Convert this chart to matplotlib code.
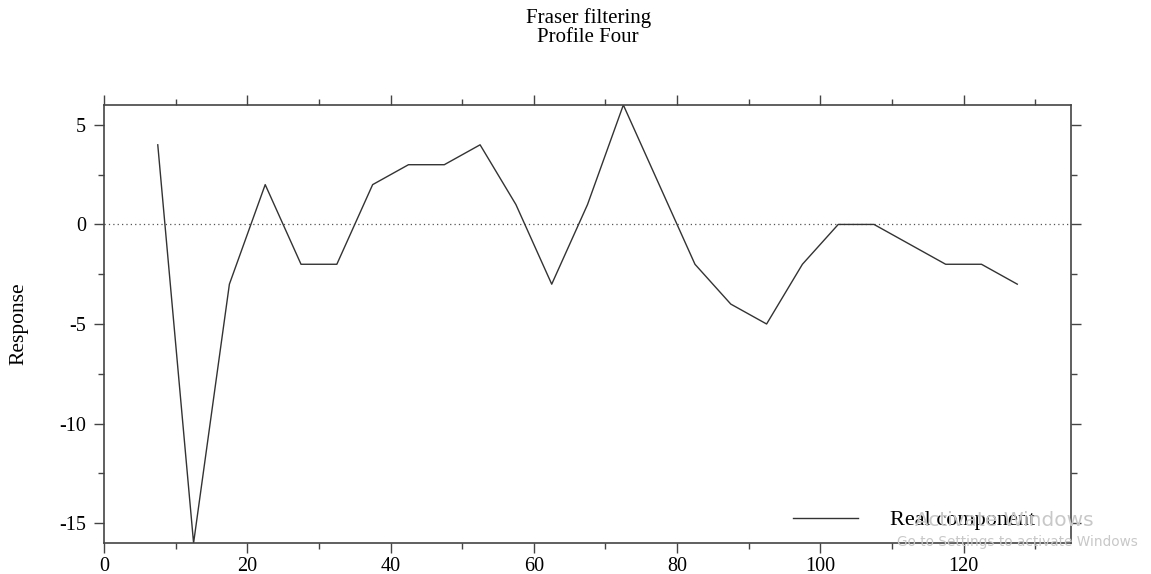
import numpy as np
import matplotlib.pyplot as plt
from matplotlib.ticker import MultipleLocator

# Profile Four, real component of the Fraser filter
station = [7.5, 12.5, 17.5, 22.5, 27.5, 32.5, 37.5, 42.5, 47.5, 52.5, 57.5, 62.5, 67.5,
           72.5, 77.5, 82.5, 87.5, 92.5, 97.5, 102.5, 107.5, 112.5, 117.5, 122.5, 127.5]
real_part = [4, -16, -3, 2, -2, -2, 2, 3, 3, 4, 1, -3, 1,
             6, 2, -2, -4, -5, -2, 0, 0, -1, -2, -2, -3]

plt.rcParams['font.family'] = ['Liberation Serif', 'DejaVu Serif']
plt.rcParams['axes.unicode_minus'] = False

fig = plt.figure(figsize=(11.51, 5.74), dpi=100)
ax = fig.add_axes([0.0904, 0.054, 0.8401, 0.7631])

ax.axhline(0, color='#555555', linestyle=(0, (1, 2.5)), linewidth=0.9)
ax.plot(station, real_part, color='#333333', linewidth=1.0, label='Real component')

ax.set_xlim(0, 135)
ax.set_ylim(-16, 6)
ax.xaxis.set_major_locator(MultipleLocator(20))
ax.xaxis.set_minor_locator(MultipleLocator(10))
ax.yaxis.set_major_locator(MultipleLocator(5))
ax.yaxis.set_minor_locator(MultipleLocator(2.5))
ax.tick_params(which='both', direction='out', top=True, right=True,
               labeltop=False, labelright=False, color='#444444', width=1.0,
               labelsize=14.5)
ax.tick_params(axis='y', pad=6)
ax.tick_params(axis='x', pad=3)
ax.tick_params(which='major', length=7)
ax.tick_params(which='minor', length=4)
for s in ax.spines.values():
    s.set_color('#444444')
    s.set_linewidth(1.2)

ax.set_ylabel('Response', fontsize=15.5)
ax.yaxis.set_label_coords(-0.078, 0.5)
fig.text(0.511, 0.9686, 'Fraser filtering', ha='center', va='center', fontsize=15)
fig.text(0.511, 0.9355, 'Profile Four', ha='center', va='center', fontsize=15)

ax.legend(loc='center right', bbox_to_anchor=(0.963, 0.0525), frameon=False,
          fontsize=16, handlelength=2.9, handletextpad=1.45,
          borderpad=0, borderaxespad=0)

# windows activation watermark sitting over the screenshot
fig.text(0.795, 0.094, 'Activate Windows', color='#c8c8c8', fontsize=14.5,
         family='DejaVu Sans', ha='left', va='center')
fig.text(0.779, 0.055, 'Go to Settings to activate Windows', color='#c8c8c8',
         fontsize=9.8, family='DejaVu Sans', ha='left', va='center')

fig.savefig('out.png', dpi=100)
